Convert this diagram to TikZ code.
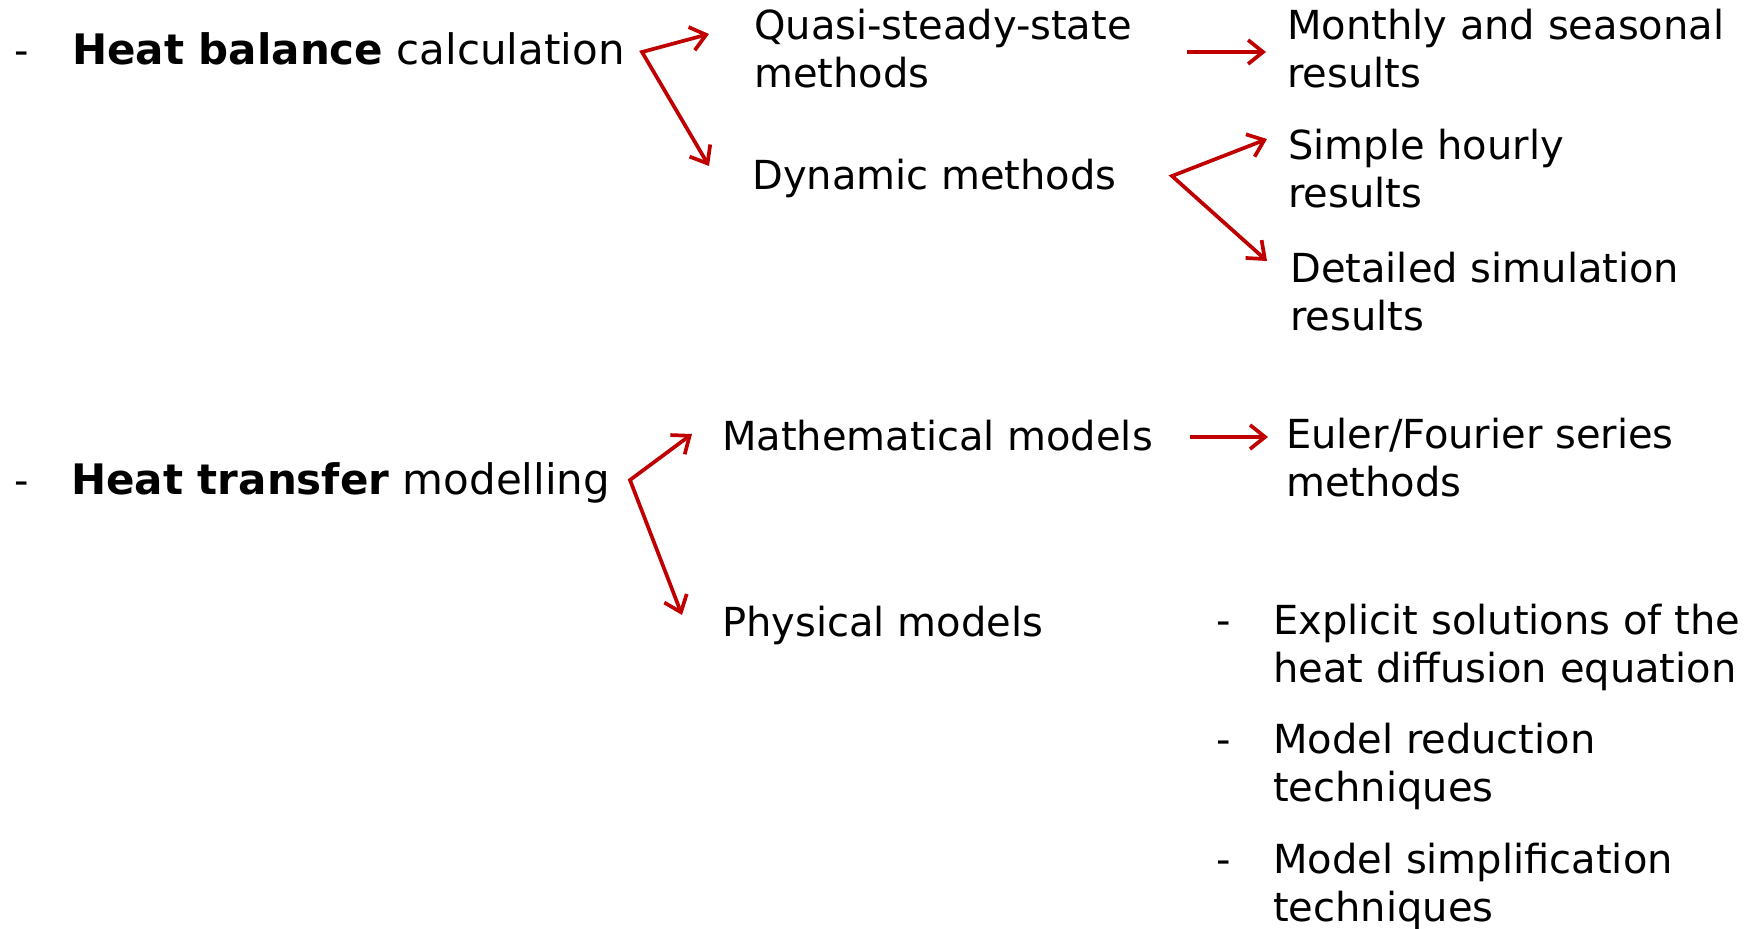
\documentclass[tikz,border=0pt]{standalone}
\usepackage{fontspec}
\setmainfont{DejaVu Sans}
\usetikzlibrary{arrows.meta}
\definecolor{arrred}{HTML}{C00000}
\begin{document}
\begin{tikzpicture}[x=1pt,y=-1pt,
  txt/.style={anchor=base west,inner sep=0pt,align=left,font=\fontsize{40pt}{48pt}\selectfont},
  bigtxt/.style={txt,font=\fontsize{42pt}{50pt}\selectfont},
  arr/.style={draw=arrred,line width=3.7pt,-{Straight Barb[length=15pt,width=24pt]}},
  darr/.style={draw=arrred,line width=3.7pt,{Straight Barb[length=15pt,width=24pt]}-{Straight Barb[length=15pt,width=24pt]}}]
\useasboundingbox (0,0) rectangle (1757,929);

% texts (base anchor = baseline of the last line)
\node[txt] (d1) at (14,64) {-};
\node[bigtxt] (hb) at (72,64) {\textbf{Heat balance} calculation};
\node[txt] (qs) at (754,87) {Quasi-steady-state\\methods};
\node[txt] (mo) at (1287,87) {Monthly and seasonal\\results};
\node[txt] (dy) at (752,189) {Dynamic methods};
\node[txt] (sh) at (1288,207) {Simple hourly\\results};
\node[txt] (ds) at (1290,330) {Detailed simulation\\results};

\node[txt] (d2) at (14,494) {-};
\node[bigtxt] (ht) at (71,494) {\textbf{Heat transfer} modelling};
\node[txt] (mm) at (722,450) {Mathematical models};
\node[txt] (eu) at (1286,496) {Euler/Fourier series\\methods};
\node[txt] (pm) at (722,636) {Physical models};
\node[txt] (b1d) at (1216,634) {-};
\node[txt] (b1) at (1273,682) {Explicit solutions of the\\heat diffusion equation};
\node[txt] (b2d) at (1216,753) {-};
\node[txt] (b2) at (1273,801) {Model reduction\\techniques};
\node[txt] (b3d) at (1216,873) {-};
\node[txt] (b3) at (1273,921) {Model simplification\\techniques};

% connector points
\coordinate (hbfork) at (642,52);
\coordinate (qsin) at (709,34);
\coordinate (dyin) at (709,166);
\coordinate (qsout) at (1187,52);
\coordinate (moin) at (1266,52);
\coordinate (dyfork) at (1172,176);
\coordinate (shin) at (1267,139);
\coordinate (dsin) at (1267,261);
\coordinate (htfork) at (630,480);
\coordinate (mmin) at (692,434);
\coordinate (pmin) at (682,615);
\coordinate (mmout) at (1190,437);
\coordinate (euin) at (1268,437);

% connectors
\draw[darr] (qsin) -- (hbfork) -- (dyin);
\draw[arr] (qsout) -- (moin);
\draw[darr] (shin) -- (dyfork) -- (dsin);
\draw[darr] (mmin) -- (htfork) -- (pmin);
\draw[arr] (mmout) -- (euin);
\end{tikzpicture}
\end{document}
